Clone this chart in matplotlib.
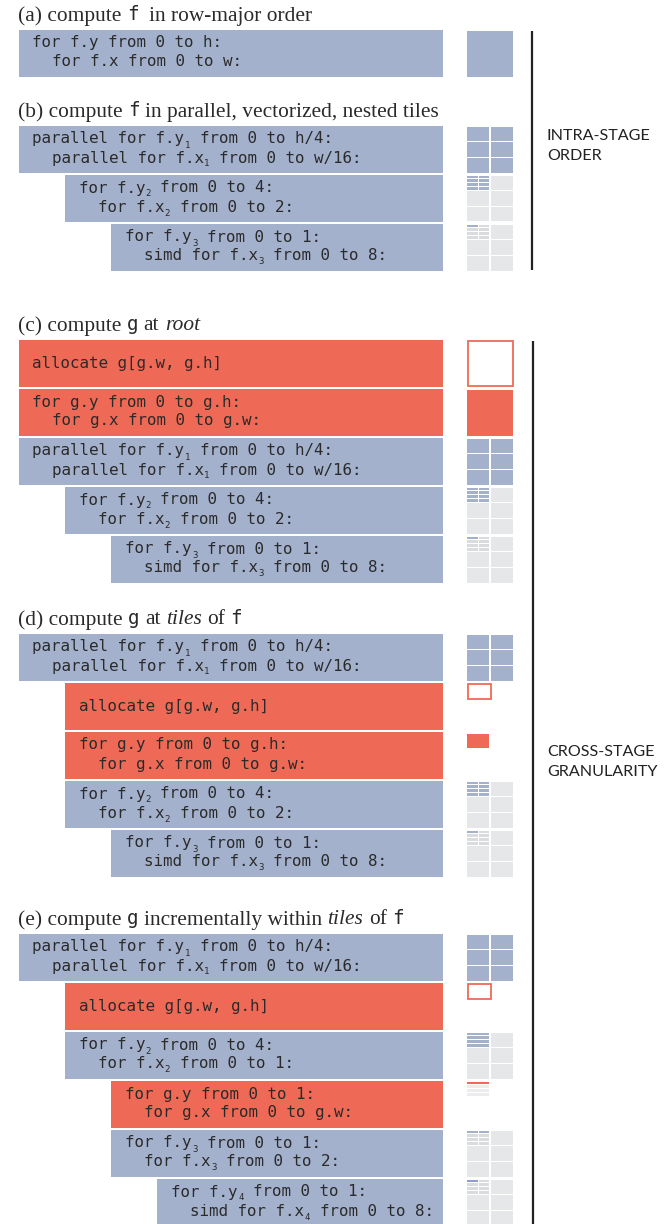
import re
import matplotlib
matplotlib.use('Agg')
import matplotlib.pyplot as plt
from matplotlib.patches import Rectangle

BLUE = '#a4b1cd'
DARK_BLUE = '#8e9dcc'
RED = '#ee6a56'
GRAY = '#e6e7e9'
STRIPE_GRAY = '#dadbde'
LIGHT = '#ececee'
INK = '#2a2a2a'

SERIF = 'Liberation Serif'
MONO = 'DejaVu Sans Mono'
SANS = 'Lato'

TITLE_SIZE = 15.4
CODE_SIZE = 11.4
SUB_SIZE = 6.5

# panel titles: (text, kind)
titles = [
    [("(a) compute", "serif"), ("f", "mono"), ("", "gap"), ("in row-major order", "serif")],
    [("(b) compute", "serif"), ("f", "mono"), ("in parallel, vectorized, nested tiles", "serif")],
    [("(c) compute", "serif"), ("g", "mono"), ("at", "serif"), ("root", "italic")],
    [("(d) compute", "serif"), ("g", "mono"), ("at", "serif"), ("tiles", "italic"),
     ("of", "serif"), ("f", "mono")],
    [("(e) compute", "serif"), ("g", "mono"), ("incrementally within", "serif"),
     ("tiles", "italic"), ("of", "serif"), ("f", "mono")],
]
panel_tops = [30, 126, 340, 634, 934]

# code blocks: (nesting level, stage, lines, icon)
f_tile = ["parallel for f.y_1 from 0 to h/4:", "  parallel for f.x_1 from 0 to w/16:"]
f_inner2 = ["for f.y_2 from 0 to 4:", "  for f.x_2 from 0 to 2:"]
f_inner3 = ["for f.y_3 from 0 to 1:", "  simd for f.x_3 from 0 to 8:"]
g_alloc = ["allocate g[g.w, g.h]"]
g_loop = ["for g.y from 0 to g.h:", "  for g.x from 0 to g.w:"]

blocks = [
    [(0, 'f', ["for f.y from 0 to h:", "  for f.x from 0 to w:"], 'solid')],
    [(0, 'f', f_tile, 'grid'),
     (1, 'f', f_inner2, 'all_blue'),
     (2, 'f', f_inner3, 'first_blue')],
    [(0, 'g', g_alloc, 'outline_big'),
     (0, 'g', g_loop, 'fill_big'),
     (0, 'f', f_tile, 'grid'),
     (1, 'f', f_inner2, 'all_blue'),
     (2, 'f', f_inner3, 'first_blue')],
    [(0, 'f', f_tile, 'grid'),
     (1, 'g', g_alloc, 'outline_cell'),
     (1, 'g', g_loop, 'fill_cell'),
     (1, 'f', f_inner2, 'all_blue'),
     (2, 'f', f_inner3, 'first_blue')],
    [(0, 'f', f_tile, 'grid'),
     (1, 'g', g_alloc, 'outline_cell'),
     (1, 'f', ["for f.y_2 from 0 to 4:", "  for f.x_2 from 0 to 1:"], 'row_blue'),
     (2, 'g', ["for g.y from 0 to 1:", "  for g.x from 0 to g.w:"], 'row_red'),
     (2, 'f', ["for f.y_3 from 0 to 1:", "  for f.x_3 from 0 to 2:"], 'top_row_blue'),
     (3, 'f', ["for f.y_4 from 0 to 1:", "  simd for f.x_4 from 0 to 8:"], 'first_dark')],
]

# stripe colours of the top-left tile (4 rows x 2 columns, or 4 rows x 1)
stripe_patterns = {
    'all_blue': [[BLUE, BLUE]] * 4,
    'first_blue': [[BLUE, STRIPE_GRAY]] + [[STRIPE_GRAY, STRIPE_GRAY]] * 3,
    'top_row_blue': [[BLUE, BLUE]] + [[STRIPE_GRAY, STRIPE_GRAY]] * 3,
    'first_dark': [[DARK_BLUE, STRIPE_GRAY]] + [[STRIPE_GRAY, STRIPE_GRAY]] * 3,
    'row_blue': [[BLUE]] * 4,
    'row_red': [[RED]] + [[LIGHT]] * 3,
}

side_labels = [(["INTRA-STAGE", "ORDER"], 140.5), (["CROSS-STAGE", "GRANULARITY"], 756.5)]
side_lines = [(532, 31, 270), (533, 341, 1224)]

fig = plt.figure(figsize=(6.69, 12.24), dpi=100)
ax = fig.add_axes([0, 0, 1, 1])
ax.set_xlim(0, 669)
ax.set_ylim(1224, 0)
ax.axis('off')
rend = fig.canvas.get_renderer()


def width(t):
    return t.get_window_extent(renderer=rend).width


def font_kw(kind):
    if kind == 'mono':
        return dict(family=MONO, size=TITLE_SIZE - 1.5)
    if kind == 'italic':
        return dict(family=SERIF, size=TITLE_SIZE, style='italic')
    return dict(family=SERIF, size=TITLE_SIZE)


t1 = ax.text(0, 0, 'a a', **font_kw('serif'))
t2 = ax.text(0, 0, 'aa', **font_kw('serif'))
space = width(t1) - width(t2)
t1.remove()
t2.remove()

t1 = ax.text(0, 0, 'x' * 11, family=MONO, size=CODE_SIZE)
t2 = ax.text(0, 0, 'x', family=MONO, size=CODE_SIZE)
cw = (width(t1) - width(t2)) / 10
t1.remove()
t2.remove()


def put_title(x, y, pieces):
    for text, kind in pieces:
        if kind == 'gap':
            x += space
            continue
        t = ax.text(x, y, text, va='baseline', ha='left', color=INK, **font_kw(kind))
        x += width(t) + space


def put_code(x, y, line):
    parts = re.split(r'_(\d)', line)
    for i, p in enumerate(parts):
        if i % 2 == 0:
            lead = len(p) - len(p.lstrip(' '))
            x += lead * cw
            p = p.lstrip(' ')
            if p:
                ax.text(x, y, p, family=MONO, size=CODE_SIZE, color=INK,
                        va='baseline', ha='left')
            x += len(p) * cw
        else:
            ax.text(x + 0.05 * cw, y + 4, p, family=MONO, size=SUB_SIZE, color=INK,
                    va='baseline', ha='left')
            x += 0.6 * cw


def draw_icon(top, icon):
    x0, size, gap = 467, 46, 1.5
    cwid = (size - gap) / 2
    rh = (size - 2 * gap) / 3
    if icon == 'solid':
        ax.add_patch(Rectangle((x0, top), size, size, fc=BLUE, ec='none'))
        return
    if icon == 'outline_big':
        ax.add_patch(Rectangle((x0 + 0.5, top + 0.5), size - 1, size - 1, fc='white',
                               ec=RED, lw=1.3))
        return
    if icon == 'fill_big':
        ax.add_patch(Rectangle((x0, top), size, size, fc=RED, ec='none'))
        return
    if icon == 'outline_cell':
        ax.add_patch(Rectangle((x0 + 0.5, top + 0.5), cwid + 1, rh + 1, fc='white',
                               ec=RED, lw=1.3))
        return
    if icon == 'fill_cell':
        ax.add_patch(Rectangle((x0, top + 1), cwid, rh, fc=RED, ec='none'))
        return
    pattern = stripe_patterns.get(icon)
    for r in range(3):
        for c in range(2):
            cx = x0 + c * (cwid + gap)
            cy = top + r * (rh + gap)
            if r == 0 and c == 0 and pattern is not None:
                continue
            if icon == 'row_red':
                continue
            ax.add_patch(Rectangle((cx, cy), cwid, rh,
                                   fc=BLUE if icon == 'grid' else GRAY, ec='none'))
    if pattern is None:
        return
    sgap = 0.9
    sh = (rh - 3 * sgap) / 4
    for r, row in enumerate(pattern):
        n = len(row)
        sw = (cwid - (n - 1) * 1.2) / n
        for c, col in enumerate(row):
            ax.add_patch(Rectangle((x0 + c * (sw + 1.2), top + r * (sh + sgap)), sw, sh,
                                   fc=col, ec='none'))


box_right = 443
for title, blist, top in zip(titles, blocks, panel_tops):
    put_title(18, top - 9.5, title)
    for i, (level, stage, lines, icon) in enumerate(blist):
        y = top + i * 49
        left = 18.5 + level * 46.3
        ax.add_patch(Rectangle((left, y), box_right - left, 47,
                               fc=BLUE if stage == 'f' else RED, ec='none'))
        if len(lines) == 1:
            put_code(left + 14, y + 28, lines[0])
        else:
            put_code(left + 14, y + 17.5, lines[0])
            put_code(left + 14, y + 36.5, lines[1])
        draw_icon(y + 0.5, icon)

for x, y0, y1 in side_lines:
    ax.plot([x, x], [y0, y1], color='#222222', lw=1.6, solid_capstyle='butt')

for words, y in side_labels:
    for j, w in enumerate(words):
        ax.text(547, y + j * 19.5, w, family=SANS, size=11.6, color='#222222',
                va='baseline', ha='left')

fig.savefig('out.png', dpi=100)
